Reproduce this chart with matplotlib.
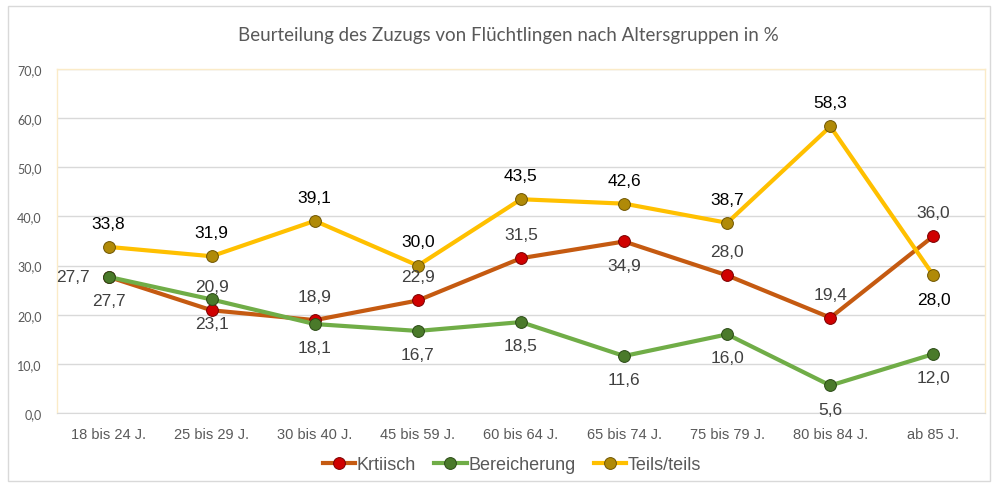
import matplotlib.pyplot as plt
from matplotlib.patches import Rectangle

categories = ["18 bis 24 J.", "25 bis 29 J.", "30 bis 40 J.", "45 bis 59 J.", "60 bis 64 J.",
              "65 bis 74 J.", "75 bis 79 J.", "80 bis 84 J.", "ab 85 J."]
kritisch = [27.7, 20.9, 18.9, 22.9, 31.5, 34.9, 28.0, 19.4, 36.0]
bereicherung = [27.7, 23.1, 18.1, 16.7, 18.5, 11.6, 16.0, 5.6, 12.0]
teils = [33.8, 31.9, 39.1, 30.0, 43.5, 42.6, 38.7, 58.3, 28.0]
yticks = [0, 10, 20, 30, 40, 50, 60, 70]

# label offsets in points (dx, dy)
up, down = (0, 17), (0, -17)
off_krit = [(-26, 0), up, up, up, up, down, up, up, up]
off_ber = [down] * 9
off_teils = [up] * 8 + [down]

fig = plt.figure(figsize=(9.94, 4.89), dpi=100)
fig.patches.append(Rectangle((8 / 994, 7 / 489), 982 / 994, 475 / 489, transform=fig.transFigure,
                             fill=False, edgecolor="#D9D9D9", lw=1))
ax = fig.add_axes([57 / 994, 1 - 414 / 489, 928 / 994, 344 / 489])

x = list(range(len(categories)))
series = [
    ("Krtiisch", kritisch, "#C55A11", "#D00000", "#7A0000", off_krit, "#404040"),
    ("Bereicherung", bereicherung, "#70AD47", "#4A7A2A", "#2A4A15", off_ber, "#404040"),
    ("Teils/teils", teils, "#FFC000", "#B08A08", "#6F5500", off_teils, "#000000"),
]
for name, vals, lc, mfc, mec, offs, tc in series:
    ax.plot(x, vals, color=lc, lw=3, marker="o", ms=8.5, mfc=mfc, mec=mec, mew=0.7,
            label=name, zorder=3)
    for xi, v, (dx, dy) in zip(x, vals, offs):
        ax.annotate(f"{v:.1f}".replace(".", ","), (xi, v), xytext=(dx, dy),
                    textcoords="offset points", ha="center", va="center",
                    fontsize=12.5, color=tc, family="Liberation Sans", zorder=4)

ax.set_xlim(-0.5, len(categories) - 0.5)
ax.set_ylim(0, 70)
ax.set_yticks(yticks)
ax.set_yticklabels([f"{t:.1f}".replace(".", ",") for t in yticks], family="Lato",
                   fontsize=9, color="#595959")
ax.set_xticks(x)
ax.set_xticklabels(categories, family="Liberation Sans", fontsize=10.5, color="#595959")
ax.tick_params(length=0, pad=10)
ax.tick_params(axis="y", pad=11)
ax.grid(axis="y", color="#D9D9D9", lw=1)
ax.set_axisbelow(True)
for s in ["top", "left", "right"]:
    ax.spines[s].set_color("#FBEBC8")
    ax.spines[s].set_linewidth(1)
ax.spines["bottom"].set_color("#D9D9D9")

fig.text(0.511, 1 - 35 / 489, "Beurteilung des Zuzugs von Flüchtlingen nach Altersgruppen in %",
         ha="center", va="center", family="Lato", fontsize=13.5, color="#595959")

leg = fig.legend(loc="center", bbox_to_anchor=(512 / 994, 1 - 466 / 489), ncol=3, frameon=False,
                 prop={"family": "Liberation Sans", "size": 13}, handlelength=1.8,
                 handletextpad=0.1, columnspacing=1.0, labelcolor="#595959")

fig.savefig("out.png", dpi=100)
